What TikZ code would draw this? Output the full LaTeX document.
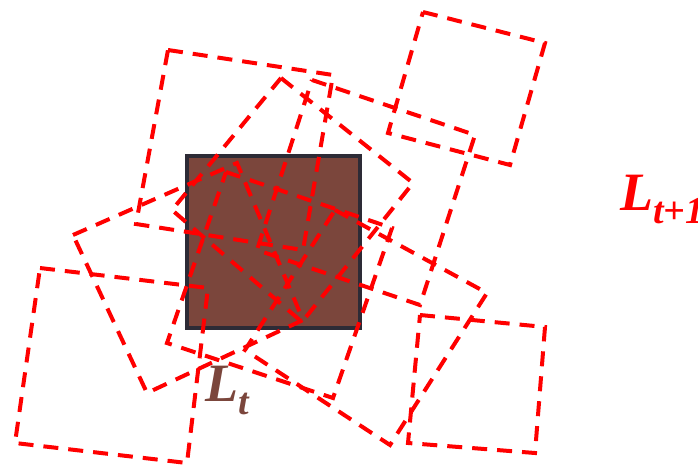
\documentclass[tikz,border=0pt]{standalone}
\usepackage{fontspec}
\setmainfont{Liberation Serif}
\definecolor{boxbrown}{HTML}{7B463C}
\definecolor{boxedge}{HTML}{2D2B36}
\definecolor{sqred}{HTML}{FF0000}
\tikzset{
  sq/.style={draw=sqred, line width=4pt, dash pattern=on 15pt off 10pt, line join=miter},
  lbl/.style={font=\fontsize{54}{54}\selectfont\bfseries\itshape, inner sep=0pt, anchor=base west}
}
\begin{document}
\begin{tikzpicture}[x=1pt,y=-1pt]
\useasboundingbox (0,0) rectangle (698,468);
% current box
\draw[fill=boxbrown, draw=boxedge, line width=4pt] (187,156) rectangle (360,328);
% candidate boxes
\draw[sq] (423,12) -- (545,43) -- (510,165) -- (388,133) -- cycle;
\draw[sq] (168,50) -- (333,75) -- (303,250) -- (136,224) -- cycle;
\draw[sq] (312,80) -- (475,135) -- (420,305) -- (257,250) -- cycle;
\draw[sq] (40,268) -- (208,288) -- (187,463) -- (15,443) -- cycle;
\draw[sq] (73,235) -- (237,163) -- (303,320) -- (147,393) -- cycle;
\draw[sq] (281,78) -- (413,183) -- (302,322) -- (172,210) -- cycle;
\draw[sq] (420,315) -- (545,327) -- (535,453) -- (408,443) -- cycle;
\draw[sq] (335,210) -- (487,293) -- (390,445) -- (245,350) -- cycle;
\draw[sq] (226,172) -- (392,228) -- (333,398) -- (167,343) -- cycle;
% labels
\node[lbl, text=boxbrown] (lt) at (205,401) {L\raisebox{-13pt}{\fontsize{38}{38}\selectfont t}};
\node[lbl, text=sqred] (lt1) at (620,210) {L\raisebox{-13pt}{\fontsize{38}{38}\selectfont t+1}};
\end{tikzpicture}
\end{document}
